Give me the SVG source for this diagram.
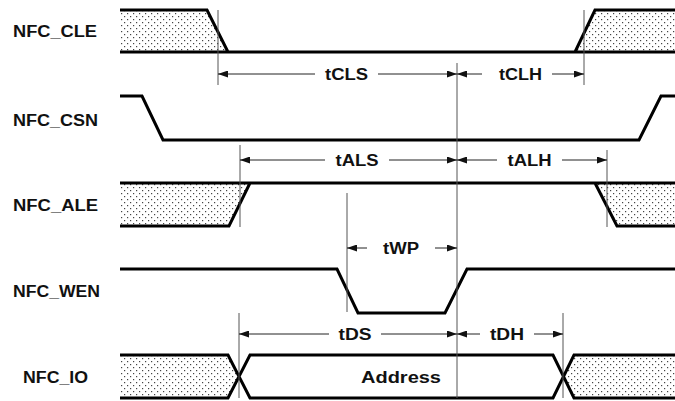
<svg xmlns="http://www.w3.org/2000/svg" width="675" height="401" viewBox="0 0 675 401">
<defs>
<pattern id="dots" width="6" height="6" patternUnits="userSpaceOnUse">
<rect width="6" height="6" fill="#ffffff"/>
<rect x="1" y="1" width="1.2" height="1.2" fill="#444"/>
<rect x="4" y="4" width="1.2" height="1.2" fill="#444"/>
</pattern>
<marker id="ah" markerWidth="10" markerHeight="7" refX="10" refY="3.5" orient="auto" markerUnits="userSpaceOnUse">
<path d="M0,0 L10,3.5 L0,7 z" fill="#111"/>
</marker>
<style>
.sig{fill:none;stroke:#000;stroke-width:3;stroke-linejoin:miter}
.hatch{fill:url(#dots);stroke:none}
.ref{stroke:#555;stroke-width:1;fill:none}
.dim{stroke:#222;stroke-width:1;fill:none;marker-end:url(#ah)}
.lbl{font-family:"Liberation Sans",Arial,sans-serif;font-weight:bold;font-size:16px;fill:#111}
.t{font-family:"Liberation Sans",Arial,sans-serif;font-weight:bold;font-size:16px;fill:#111;text-anchor:middle}
</style>
</defs>
<rect width="675" height="401" fill="#ffffff"/>

<g id="NFC_CLE">
<polygon class="hatch" points="120,10 207,10 228,52 120,52"/>
<polygon class="hatch" points="575,52 595,10 675,10 675,52"/>
<path class="sig" d="M120,10 H207 L228,52 M120,52 H675 M575,52 L595,10 H675"/>
<text class="lbl" x="13" y="37" textLength="84" lengthAdjust="spacingAndGlyphs">NFC_CLE</text>
</g>

<g id="NFC_CSN">
<path class="sig" d="M120,96 H142 L163,140 H639 L661,96 H675"/>
<text class="lbl" x="13" y="126" textLength="85" lengthAdjust="spacingAndGlyphs">NFC_CSN</text>
</g>

<g id="NFC_ALE">
<polygon class="hatch" points="120,183 250,183 229,226 120,226"/>
<polygon class="hatch" points="595,183 617,226 675,226 675,183"/>
<path class="sig" d="M120,183 H675 M120,226 H229 L250,183 M595,183 L617,226 H675"/>
<text class="lbl" x="13" y="211" textLength="85" lengthAdjust="spacingAndGlyphs">NFC_ALE</text>
</g>

<g id="NFC_WEN">
<path class="sig" d="M120,269 H337 L358,313 H445 L467,269 H675"/>
<text class="lbl" x="13" y="297" textLength="87" lengthAdjust="spacingAndGlyphs">NFC_WEN</text>
</g>

<g id="NFC_IO">
<polygon class="hatch" points="120,355 228,355 239,376.5 228,398 120,398"/>
<polygon class="hatch" points="574,355 563,376.5 574,398 675,398 675,355"/>
<path class="sig" d="M120,355 H228 L250,398 H553 L574,355 H675 M120,398 H228 L250,355 H553 L574,398 H675"/>
<text class="lbl" x="23" y="383" textLength="65" lengthAdjust="spacingAndGlyphs">NFC_IO</text>
<text class="t" x="401" y="383" textLength="80" lengthAdjust="spacingAndGlyphs">Address</text>
</g>

<g id="connectors">
<path class="ref" d="M218,10 V85 M584,10 V85 M457,63 V398 M240,145 V227 M607,150 V227 M347,193 V312 M239,313 V398 M563,313 V398"/>
<line class="dim" x1="315" y1="74" x2="218" y2="74"/>
<line class="dim" x1="378" y1="74" x2="457" y2="74"/>
<line class="dim" x1="482" y1="74" x2="457" y2="74"/>
<line class="dim" x1="552" y1="74" x2="584" y2="74"/>
<line class="dim" x1="325" y1="160" x2="240" y2="160"/>
<line class="dim" x1="389" y1="160" x2="457" y2="160"/>
<line class="dim" x1="497" y1="160" x2="457" y2="160"/>
<line class="dim" x1="562" y1="160" x2="607" y2="160"/>
<line class="dim" x1="367" y1="248" x2="347" y2="248"/>
<line class="dim" x1="435" y1="248" x2="457" y2="248"/>
<line class="dim" x1="329" y1="334" x2="239" y2="334"/>
<line class="dim" x1="381" y1="334" x2="457" y2="334"/>
<line class="dim" x1="480" y1="334" x2="457" y2="334"/>
<line class="dim" x1="534" y1="334" x2="563" y2="334"/>
</g>

<g id="labels">
<text class="t" x="346.5" y="80" textLength="43" lengthAdjust="spacingAndGlyphs">tCLS</text>
<text class="t" x="520.5" y="80" textLength="43" lengthAdjust="spacingAndGlyphs">tCLH</text>
<text class="t" x="357" y="166" textLength="43" lengthAdjust="spacingAndGlyphs">tALS</text>
<text class="t" x="529.5" y="166" textLength="44" lengthAdjust="spacingAndGlyphs">tALH</text>
<text class="t" x="401" y="254" textLength="36" lengthAdjust="spacingAndGlyphs">tWP</text>
<text class="t" x="355" y="340" textLength="33" lengthAdjust="spacingAndGlyphs">tDS</text>
<text class="t" x="507" y="340" textLength="34" lengthAdjust="spacingAndGlyphs">tDH</text>
</g>
</svg>
